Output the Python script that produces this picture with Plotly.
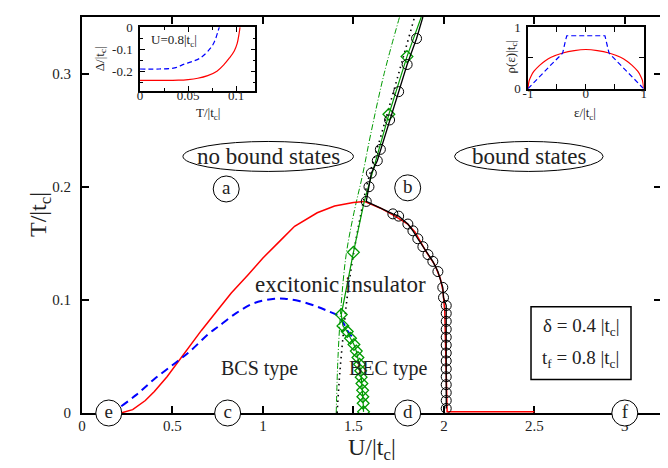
import plotly.graph_objects as go

# ---------------- data ----------------
# main phase boundaries, U/|tc| vs T/|tc|
red_U = [0.215, 0.28, 0.35, 0.40, 0.47, 0.53, 0.60, 0.66, 0.75, 0.825, 0.917, 1.0, 1.1, 1.175,
         1.3, 1.396, 1.5, 1.56, 1.65, 1.73, 1.80, 1.84, 1.90, 1.95, 1.98, 1.995, 2.005, 2.012, 2.018, 2.5]
red_T = [0.0, 0.003, 0.011, 0.019, 0.032, 0.045, 0.060, 0.073, 0.091, 0.106, 0.122, 0.137, 0.153, 0.165,
         0.177, 0.183, 0.186, 0.187, 0.181, 0.174, 0.167, 0.160, 0.143, 0.131, 0.119, 0.108, 0.09, 0.05, 0.001, 0.001]

blue_U = [0.217, 0.30, 0.40, 0.53, 0.60, 0.70, 0.75, 0.85, 0.95, 1.065, 1.12, 1.2, 1.30, 1.36, 1.414, 1.45, 1.47, 1.50]
blue_T = [0.006, 0.016, 0.030, 0.046, 0.055, 0.070, 0.076, 0.088, 0.097, 0.101, 0.101, 0.099, 0.094, 0.090, 0.086, 0.078, 0.072, 0.066]

circ_U = [1.884, 1.849, 1.797, 1.75, 1.70, 1.649, 1.632, 1.599, 1.586, 1.571,
          1.718, 1.75, 1.801, 1.829, 1.856, 1.884, 1.912, 1.939, 1.967, 1.994, 1.998,
          2.013, 2.013, 2.013, 2.013, 2.013, 2.013, 2.013, 2.013, 2.013, 2.013, 2.013, 2.013, 2.013, 2.013]
circ_T = [0.35, 0.331, 0.308, 0.284, 0.259, 0.233, 0.223, 0.212, 0.200, 0.187,
          0.176, 0.174, 0.167, 0.161, 0.154, 0.147, 0.140, 0.134, 0.125, 0.111, 0.102,
          0.095, 0.088, 0.081, 0.074, 0.067, 0.060, 0.053, 0.046, 0.039, 0.032, 0.025, 0.018, 0.011, 0.004]

green_U = [1.875, 1.796, 1.696, 1.56, 1.50, 1.433, 1.442, 1.466, 1.484, 1.503, 1.516, 1.525, 1.534,
           1.54, 1.543, 1.547, 1.551, 1.552, 1.554, 1.556]
green_T = [0.35, 0.315, 0.264, 0.187, 0.142, 0.087, 0.077, 0.072, 0.066, 0.0605, 0.0547, 0.049, 0.043,
           0.0374, 0.0317, 0.026, 0.020, 0.0144, 0.0086, 0.001]
green_marked = [False, True, True, False, True, True, True, True, True, True, True, True, True,
                True, True, True, True, True, True, True]

dashdot_U = [1.405, 1.415, 1.433, 1.46, 1.503, 1.55, 1.595, 1.67, 1.755]
dashdot_T = [0.0, 0.05, 0.097, 0.14, 0.177, 0.21, 0.246, 0.30, 0.35]

dotted_U = [1.41, 1.425, 1.45, 1.47, 1.50, 1.54, 1.58, 1.654, 1.75, 1.838]
dotted_T = [0.0, 0.036, 0.079, 0.108, 0.14, 0.175, 0.205, 0.246, 0.30, 0.35]

# region labels
lab_text = ["a", "b", "c", "d", "e", "f"]
lab_U = [0.797, 1.80, 0.805, 1.80, 0.148, 3.0]
lab_T = [0.198, 0.199, 0.0, 0.0, 0.0, 0.0]

# inset 1: gap vs temperature, U = 0.8|tc|
gapR_T = [0.0, 0.02, 0.04, 0.05, 0.06, 0.0704, 0.08, 0.0877, 0.093, 0.098, 0.101, 0.103, 0.104]
gapR_D = [-0.242, -0.242, -0.241, -0.238, -0.232, -0.22, -0.200, -0.168, -0.14, -0.108, -0.075, -0.03, 0.0]
gapB_T = [0.0, 0.02, 0.036, 0.046, 0.055, 0.0634, 0.0738, 0.078, 0.081, 0.0825]
gapB_D = [-0.19, -0.19, -0.185, -0.168, -0.155, -0.138, -0.093, -0.06, -0.02, 0.0]

# inset 2: density of states
dosR_e = [-1.0, -0.98, -0.95, -0.9, -0.8, -0.7, -0.6, -0.4, -0.2, 0.0, 0.2, 0.4, 0.6, 0.7, 0.8, 0.9, 0.95, 0.98, 1.0]
dosR_r = [0.0, 0.13, 0.20, 0.28, 0.38, 0.455, 0.51, 0.58, 0.62, 0.637, 0.62, 0.58, 0.51, 0.455, 0.38, 0.28, 0.20, 0.13, 0.0]
dosB_e = [-1.0, -0.8, -0.6, -0.45, -0.4, -0.36, -0.33, 0.33, 0.36, 0.4, 0.45, 0.6, 0.8, 1.0]
dosB_r = [0.0, 0.20, 0.39, 0.53, 0.58, 0.75, 0.86, 0.86, 0.75, 0.58, 0.53, 0.39, 0.20, 0.0]

XR = [0, 3.2]
YR = [0, 0.35]
x_ticks = [0, 0.5, 1, 1.5, 2, 2.5, 3]
x_ticktext = ["0", "0.5", "1", "1.5", "2", "2.5", "3"]
y_ticks = [0, 0.1, 0.2, 0.3]
y_ticktext = ["0", "0.1", "0.2", "0.3"]

SERIF = "Liberation Serif, Times New Roman, serif"
TXT = "#222222"
GREEN = "#009a00"

fig = go.Figure()

# dash-dot green and dotted black
fig.add_trace(go.Scatter(x=dashdot_U, y=dashdot_T, mode="lines",
                         line=dict(color=GREEN, width=1, dash="6px,2px,1px,2px"), line_shape="spline"))
fig.add_trace(go.Scatter(x=dotted_U, y=dotted_T, mode="lines",
                         line=dict(color="black", width=1.6, dash="1.5px,4px"), line_shape="spline"))
# red and blue
fig.add_trace(go.Scatter(x=red_U, y=red_T, mode="lines", line=dict(color="red", width=1.5)))
fig.add_trace(go.Scatter(x=blue_U, y=blue_T, mode="lines",
                         line=dict(color="blue", width=2, dash="8px,5px"), line_shape="spline"))
# green line + diamonds
fig.add_trace(go.Scatter(x=green_U, y=green_T, mode="lines", line=dict(color=GREEN, width=1.2)))
fig.add_trace(go.Scatter(x=[u for u, m in zip(green_U, green_marked) if m],
                         y=[t for t, m in zip(green_T, green_marked) if m], mode="markers",
                         marker=dict(symbol="diamond-open", size=9, color=GREEN, line=dict(width=1.3))))
# black line + circles
fig.add_trace(go.Scatter(x=circ_U, y=circ_T, mode="lines", line=dict(color="black", width=1.3)))
fig.add_trace(go.Scatter(x=circ_U[1:], y=circ_T[1:], mode="markers",
                         marker=dict(symbol="circle-open", size=10, color="black", line=dict(width=1))))
# circled letters
fig.add_trace(go.Scatter(x=lab_U, y=lab_T, mode="markers+text", text=lab_text,
                         textposition="middle center", cliponaxis=False,
                         textfont=dict(family=SERIF, size=19, color=TXT),
                         marker=dict(symbol="circle", size=26, color="white",
                                     line=dict(color="black", width=1))))

# inset 1
fig.add_trace(go.Scatter(x=gapR_T, y=gapR_D, mode="lines", line=dict(color="red", width=1.2),
                         line_shape="spline", xaxis="x2", yaxis="y2"))
fig.add_trace(go.Scatter(x=gapB_T, y=gapB_D, mode="lines", line=dict(color="blue", width=1.2, dash="5px,3px"),
                         line_shape="spline", xaxis="x2", yaxis="y2"))
# inset 2
fig.add_trace(go.Scatter(x=dosR_e, y=dosR_r, mode="lines", line=dict(color="red", width=1.2),
                         line_shape="spline", xaxis="x3", yaxis="y3"))
fig.add_trace(go.Scatter(x=dosB_e, y=dosB_r, mode="lines", line=dict(color="blue", width=1.2, dash="5px,3px"),
                         xaxis="x3", yaxis="y3"))

axis_common = dict(showline=True, linecolor="black", mirror="ticks", ticks="inside",
                   showgrid=False, zeroline=False, tickcolor="black")

fig.update_layout(
    width=668, height=468,
    margin=dict(l=74, r=15, t=2, b=63),
    paper_bgcolor="white", plot_bgcolor="white",
    showlegend=False,
    font=dict(family=SERIF, color=TXT),
    xaxis=dict(range=XR, tickvals=x_ticks, ticktext=x_ticktext, linewidth=2, ticklen=7, tickwidth=1.5,
               tickfont=dict(family=SERIF, size=15, color=TXT), ticklabelstandoff=-2, layer="below traces",
               **axis_common),
    yaxis=dict(range=YR, tickvals=y_ticks, ticktext=y_ticktext, linewidth=2, ticklen=7, tickwidth=1.5,
               tickfont=dict(family=SERIF, size=15, color=TXT), ticklabelstandoff=6, layer="below traces",
               **axis_common),
    xaxis2=dict(domain=[0.1002, 0.2995], anchor="y2", range=[0, 0.12], tickvals=[0, 0.05, 0.1],
                ticktext=["0", "0.05", "0.1"], linewidth=1.5, ticklen=5, tickwidth=1,
                minor=dict(dtick=0.025, ticks="inside", ticklen=3, tickcolor="black"),
                tickfont=dict(family=SERIF, size=13, color=TXT), ticklabelstandoff=-8, **axis_common),
    yaxis2=dict(domain=[0.8131, 0.9744], anchor="x2", range=[-0.29, 0], tickvals=[0, -0.1, -0.2],
                ticktext=["0", "-0.1", "-0.2"], linewidth=1.5, ticklen=5, tickwidth=1,
                minor=dict(dtick=0.05, ticks="inside", ticklen=3, tickcolor="black"),
                tickfont=dict(family=SERIF, size=13, color=TXT), ticklabelstandoff=3, **axis_common),
    xaxis3=dict(domain=[0.7703, 0.9701], anchor="y3", range=[-1, 1], tickvals=[-1, -0.5, 0, 0.5, 1],
                ticktext=["-1", "", "0", "", "1"], linewidth=1.5, ticklen=5, tickwidth=1,
                tickfont=dict(family=SERIF, size=13, color=TXT), ticklabelstandoff=-8, **axis_common),
    yaxis3=dict(domain=[0.8189, 0.9744], anchor="x3", range=[0, 1], tickvals=[0, 0.5, 1],
                ticktext=["0", "", "1"], linewidth=1.5, ticklen=5, tickwidth=1,
                tickfont=dict(family=SERIF, size=13, color=TXT), ticklabelstandoff=3, **axis_common),
)

shapes = [
    dict(type="circle", xref="x", yref="y", x0=0.558, x1=1.50, y0=0.2135, y1=0.2400,
         line=dict(color="black", width=1)),
    dict(type="circle", xref="x", yref="y", x0=2.059, x1=2.88, y0=0.2135, y1=0.2400,
         line=dict(color="black", width=1)),
    dict(type="rect", xref="paper", yref="paper", x0=0.7755, x1=0.9482, y0=0.0844, y1=0.268,
         line=dict(color="black", width=1.5), fillcolor="white", layer="below"),
]
fig.update_layout(shapes=shapes)

ann = [
    dict(x=1.028, y=0.2267, xref="x", yref="y", text="no bound states", font=dict(size=23)),
    dict(x=2.47, y=0.2267, xref="x", yref="y", text="bound states", font=dict(size=23)),
    dict(x=1.43, y=0.114, xref="x", yref="y", text="excitonic insulator", font=dict(size=23)),
    dict(x=0.98, y=0.039, xref="x", yref="y", text="BCS type", font=dict(size=20)),
    dict(x=1.69, y=0.039, xref="x", yref="y", text="BEC type", font=dict(size=20)),
    dict(x=0.8618, y=0.2184, xref="paper", yref="paper", text="δ = 0.4 |t<sub>c</sub>|", font=dict(size=19)),
    dict(x=0.8618, y=0.1365, xref="paper", yref="paper", text="t<sub>f</sub> = 0.8 |t<sub>c</sub>|", font=dict(size=19)),
    dict(x=-0.0725, y=0.5, xref="paper", yref="paper", text="T/|t<sub>c</sub>|", textangle=-90, font=dict(size=24)),
    dict(x=0.5, y=-0.092, xref="paper", yref="paper", text="U/|t<sub>c</sub>|", font=dict(size=24)),
    dict(x=0.0311, y=0.8933, xref="paper", yref="paper", text="Δ/|t<sub>c</sub>|", textangle=-90, font=dict(size=13)),
    dict(x=0.2176, y=0.7568, xref="paper", yref="paper", text="T/|t<sub>c</sub>|", font=dict(size=13)),
    dict(x=0.1589, y=0.9404, xref="paper", yref="paper", text="U=0.8|t<sub>c</sub>|", font=dict(size=13)),
    dict(x=0.741, y=0.898, xref="paper", yref="paper", text="ρ(ε)|t<sub>c</sub>|", textangle=-90, font=dict(size=13)),
    dict(x=0.8687, y=0.7568, xref="paper", yref="paper", text="ε/|t<sub>c</sub>|", font=dict(size=13)),
]
for a in ann:
    a.setdefault("showarrow", False)
    a["xanchor"] = "center"
    a["yanchor"] = "middle"
    a["font"] = dict(family=SERIF, color=TXT, size=a["font"]["size"])
fig.update_layout(annotations=ann)

fig.write_html("out.html")
